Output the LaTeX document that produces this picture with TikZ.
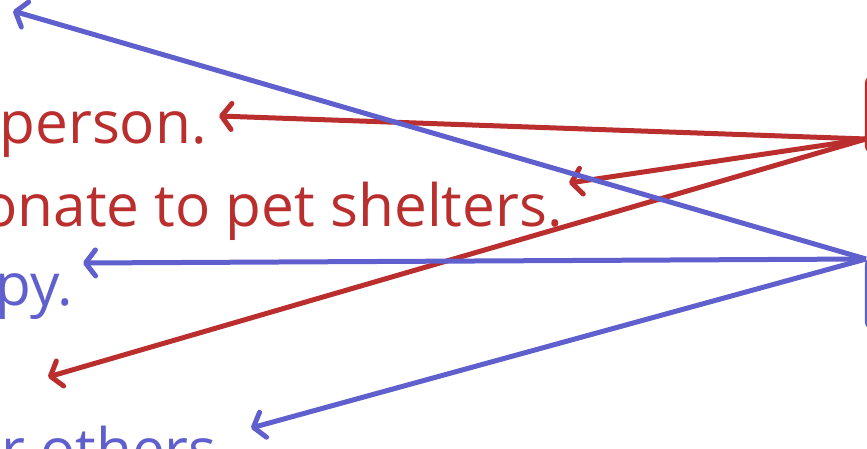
\documentclass[tikz,border=0pt]{standalone}
\usepackage{fontspec}
\setmainfont{Open Sans}
\usetikzlibrary{arrows.meta,positioning,calc}
\definecolor{redish}{RGB}{186,46,46}
\definecolor{bluish}{RGB}{95,95,205}
\begin{document}
\begin{tikzpicture}[x=1pt,y=-1pt]
  \tikzset{txt/.style={inner sep=0pt,font=\fontsize{58.5}{70}\selectfont},
    link/.style={line width=5pt,-{Straight Barb[length=10pt,width=26pt,line cap=round,line join=round]}},
    box/.style={draw,line width=2.5pt,rounded corners=9pt}}
  \useasboundingbox (0,0) rectangle (867,449);
  \clip (0,0) rectangle (867,449);
  % right boxes, mostly out of view
  \draw[box,redish] (866,75) rectangle (1000,154);
  \draw[box,bluish] (866,257) rectangle (1000,330);
  \coordinate (rsrc) at (866,139);
  \coordinate (bsrc) at (866,259);
  % texts
  \node[txt,redish,anchor=base east] (person) at (207,144) {person.};
  \node[txt,redish,anchor=base east] (donate) at (563,226) {onate to pet shelters.};
  \node[txt,bluish,anchor=base east] (happy) at (73,305) {py.};
  \node[txt,bluish,anchor=base east] (others) at (217,470) {r others};
  % arrow ends
  \coordinate (t1) at (219,116);
  \coordinate (t2) at (569,183);
  \coordinate (t3) at (48,377);
  \coordinate (t4) at (13,11);
  \coordinate (t5) at (83,263);
  \coordinate (t6) at (251,428);
  \foreach \t in {t1,t2,t3} \draw[link,redish] (rsrc) -- (\t);
  \foreach \t in {t4,t5,t6} \draw[link,bluish] (bsrc) -- (\t);
\end{tikzpicture}
\end{document}
